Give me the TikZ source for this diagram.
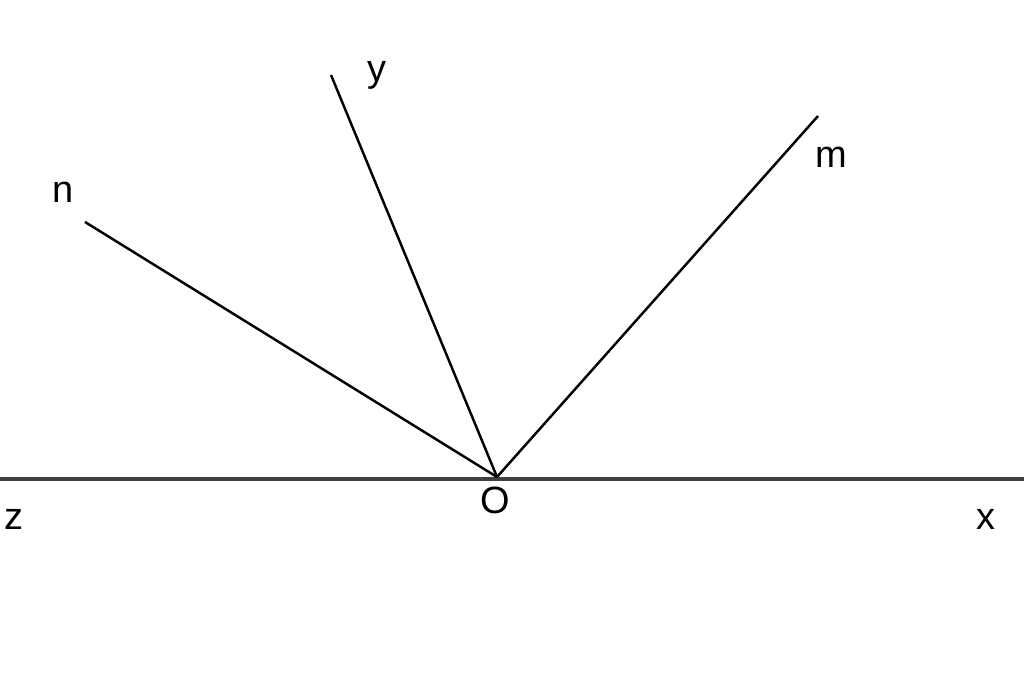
\documentclass[tikz,border=0pt]{standalone}
\usepackage{fontspec}
\setmainfont{Liberation Sans}
\usepackage{tikz}

\begin{document}
\begin{tikzpicture}[x=0.01cm, y=-0.01cm, line width=0.7pt,
		lbl/.style={font=\fontsize{10.8}{13}\selectfont, inner sep=0pt}]
				\useasboundingbox (0, 0) rectangle (1024, 692);
				\coordinate (O) at (497, 477);
				\coordinate (Z) at (0, 479);
				\coordinate (X) at (1024, 479);
				\coordinate (N) at (85, 222);
				\coordinate (Y) at (331, 75);
				\coordinate (M) at (818, 116);
				\draw[line width=0.9pt, color=black!75] (Z) -- (X);
				\draw (O) -- (N);
				\draw (O) -- (Y);
				\draw (O) -- (M);
				\node[lbl] (labn) at (63, 192) {n};
				\node[lbl] (laby) at (377, 75) {y};
				\node[lbl] (labm) at (831, 157) {m};
				\node[lbl] (labO) at (495, 500) {O};
				\node[lbl] (labz) at (14, 519) {z};
				\node[lbl] (labx) at (986, 519) {x};
			\end{tikzpicture}
\end{document}
